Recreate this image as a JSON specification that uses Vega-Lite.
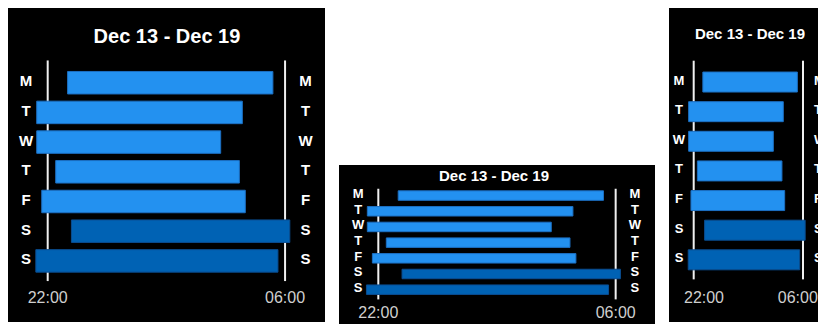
{
  "$schema": "https://vega.github.io/schema/vega-lite/v6.json",
  "background": "white",
  "padding": {"left": 8, "top": 8, "right": 0, "bottom": 0},
  "config": {"axis": {"disable": true}, "view": {"stroke": null}, "concat": {"spacing": 14}, "text": {"font": "Liberation Sans"}},
  "datasets": {
    "sleep": [
      {"row": 0, "day": "M", "start": -1.33, "end": 5.59, "kind": "weekday"},
      {"row": 1, "day": "T", "start": -2.37, "end": 4.56, "kind": "weekday"},
      {"row": 2, "day": "W", "start": -2.37, "end": 3.83, "kind": "weekday"},
      {"row": 3, "day": "T", "start": -1.73, "end": 4.46, "kind": "weekday"},
      {"row": 4, "day": "F", "start": -2.2, "end": 4.66, "kind": "weekday"},
      {"row": 5, "day": "S", "start": -1.2, "end": 6.16, "kind": "weekend"},
      {"row": 6, "day": "S", "start": -2.4, "end": 5.76, "kind": "weekend"}
    ],
    "marks": [
      {"t": -2, "label": "22:00"},
      {"t": 6, "label": "06:00"}
    ]
  },
  "hconcat": [
    {
      "width": 317, "height": 314,
      "view": {"fill": "black", "stroke": null},
      "layer": [
        {"data": {"name": "marks"}, "mark": {"type": "rule", "color": "#f0f0f0", "strokeWidth": 2, "clip": true},
         "encoding": {
           "x": {"field": "t", "type": "quantitative", "scale": {"domain": [-3.338, 7.346], "nice": false, "zero": false}},
           "y": {"datum": -0.75, "type": "quantitative", "scale": {"domain": [-2.348, 7.89], "reverse": true, "nice": false, "zero": false}},
           "y2": {"datum": 6.68}
         }},
        {"data": {"name": "sleep"}, "mark": {"type": "bar", "height": 22.5, "strokeWidth": 1, "clip": true},
         "encoding": {
           "y": {"field": "row", "type": "quantitative", "scale": {"domain": [-2.348, 7.89], "reverse": true, "nice": false, "zero": false}},
           "x": {"field": "start", "type": "quantitative", "scale": {"domain": [-3.338, 7.346], "nice": false, "zero": false}},
           "x2": {"field": "end"},
           "color": {"field": "kind", "type": "nominal", "scale": {"domain": ["weekday", "weekend"], "range": ["#2391F0", "#0062B4"]}, "legend": null},
           "stroke": {"field": "kind", "type": "nominal", "scale": {"domain": ["weekday", "weekend"], "range": ["#1c6fc2", "#0a4d91"]}, "legend": null}
         }},
        {"data": {"name": "sleep"}, "mark": {"type": "text", "fontWeight": "bold", "fontSize": 15, "color": "white", "baseline": "middle", "align": "center", "clip": true, "yOffset": -1.5},
         "encoding": {
           "y": {"field": "row", "type": "quantitative", "scale": {"domain": [-2.348, 7.89], "reverse": true, "nice": false, "zero": false}},
           "x": {"datum": -2.73, "type": "quantitative", "scale": {"domain": [-3.338, 7.346], "nice": false, "zero": false}},
           "text": {"field": "day"}
         }},
        {"data": {"name": "sleep"}, "mark": {"type": "text", "fontWeight": "bold", "fontSize": 15, "color": "white", "baseline": "middle", "align": "center", "clip": true, "yOffset": -1.5},
         "encoding": {
           "y": {"field": "row", "type": "quantitative", "scale": {"domain": [-2.348, 7.89], "reverse": true, "nice": false, "zero": false}},
           "x": {"datum": 6.69, "type": "quantitative", "scale": {"domain": [-3.338, 7.346], "nice": false, "zero": false}},
           "text": {"field": "day"}
         }},
        {"data": {"name": "marks"}, "mark": {"type": "text", "fontSize": 16, "color": "#cfcfcf", "baseline": "middle", "align": "center", "clip": true, "yOffset": 4},
         "encoding": {
           "x": {"field": "t", "type": "quantitative", "scale": {"domain": [-3.338, 7.346], "nice": false, "zero": false}},
           "y": {"datum": 7.11, "type": "quantitative", "scale": {"domain": [-2.348, 7.89], "reverse": true, "nice": false, "zero": false}},
           "text": {"field": "label"}
         }},
        {"data": {"values": [{"title": "Dec 13 - Dec 19"}]}, "mark": {"type": "text", "fontWeight": "bold", "fontSize": 20, "color": "white", "baseline": "middle", "align": "center", "clip": true, "yOffset": -3},
         "encoding": {
           "x": {"datum": 2.02, "type": "quantitative", "scale": {"domain": [-3.338, 7.346], "nice": false, "zero": false}},
           "y": {"datum": -1.435, "type": "quantitative", "scale": {"domain": [-2.348, 7.89], "reverse": true, "nice": false, "zero": false}},
           "text": {"field": "title"}
         }}
      ]
    },
    {
      "spacing": 0,
      "vconcat": [
        {
          "width": 316, "height": 157,
          "view": {"fill": null, "stroke": null},
          "data": {"values": [{}]},
          "mark": {"type": "text", "text": ""},
          "encoding": {}
        },
        {
          "width": 316, "height": 159,
          "view": {"fill": "black", "stroke": null},
          "layer": [
            {"data": {"name": "marks"}, "mark": {"type": "rule", "color": "#f0f0f0", "strokeWidth": 2, "clip": true},
             "encoding": {
               "x": {"field": "t", "type": "quantitative", "scale": {"domain": [-3.325, 7.326], "nice": false, "zero": false}},
               "y": {"datum": -0.436, "type": "quantitative", "scale": {"domain": [-1.632, 7.87], "reverse": true, "nice": false, "zero": false}},
               "y2": {"datum": 6.62}
             }},
            {"data": {"name": "sleep"}, "mark": {"type": "bar", "height": 9.5, "strokeWidth": 1, "clip": true},
             "encoding": {
               "y": {"field": "row", "type": "quantitative", "scale": {"domain": [-1.632, 7.87], "reverse": true, "nice": false, "zero": false}},
               "x": {"field": "start", "type": "quantitative", "scale": {"domain": [-3.325, 7.326], "nice": false, "zero": false}},
               "x2": {"field": "end"},
               "color": {"field": "kind", "type": "nominal", "scale": {"domain": ["weekday", "weekend"], "range": ["#2391F0", "#0062B4"]}, "legend": null},
               "stroke": {"field": "kind", "type": "nominal", "scale": {"domain": ["weekday", "weekend"], "range": ["#1c6fc2", "#0a4d91"]}, "legend": null}
             }},
            {"data": {"name": "sleep"}, "mark": {"type": "text", "fontWeight": "bold", "fontSize": 13, "color": "white", "baseline": "middle", "align": "center", "clip": true, "yOffset": -1.5},
             "encoding": {
               "y": {"field": "row", "type": "quantitative", "scale": {"domain": [-1.632, 7.87], "reverse": true, "nice": false, "zero": false}},
               "x": {"datum": -2.68, "type": "quantitative", "scale": {"domain": [-3.325, 7.326], "nice": false, "zero": false}},
               "text": {"field": "day"}
             }},
            {"data": {"name": "sleep"}, "mark": {"type": "text", "fontWeight": "bold", "fontSize": 13, "color": "white", "baseline": "middle", "align": "center", "clip": true, "yOffset": -1.5},
             "encoding": {
               "y": {"field": "row", "type": "quantitative", "scale": {"domain": [-1.632, 7.87], "reverse": true, "nice": false, "zero": false}},
               "x": {"datum": 6.65, "type": "quantitative", "scale": {"domain": [-3.325, 7.326], "nice": false, "zero": false}},
               "text": {"field": "day"}
             }},
            {"data": {"name": "marks"}, "mark": {"type": "text", "fontSize": 16, "color": "#cfcfcf", "baseline": "middle", "align": "center", "clip": true, "yOffset": 4},
             "encoding": {
               "x": {"field": "t", "type": "quantitative", "scale": {"domain": [-3.325, 7.326], "nice": false, "zero": false}},
               "y": {"datum": 7.23, "type": "quantitative", "scale": {"domain": [-1.632, 7.87], "reverse": true, "nice": false, "zero": false}},
               "text": {"field": "label"}
             }},
            {"data": {"values": [{"title": "Dec 13 - Dec 19"}]}, "mark": {"type": "text", "fontWeight": "bold", "fontSize": 15, "color": "white", "baseline": "middle", "align": "center", "clip": true, "yOffset": -3},
             "encoding": {
               "x": {"datum": 1.9, "type": "quantitative", "scale": {"domain": [-3.325, 7.326], "nice": false, "zero": false}},
               "y": {"datum": -1.034, "type": "quantitative", "scale": {"domain": [-1.632, 7.87], "reverse": true, "nice": false, "zero": false}},
               "text": {"field": "title"}
             }}
          ]
        }
      ]
    },
    {
      "width": 149, "height": 314,
      "view": {"fill": "black", "stroke": null},
      "layer": [
        {"data": {"name": "marks"}, "mark": {"type": "rule", "color": "#f0f0f0", "strokeWidth": 2, "clip": true},
         "encoding": {
           "x": {"field": "t", "type": "quantitative", "scale": {"domain": [-3.808, 7.1], "nice": false, "zero": false}},
           "y": {"datum": -0.72, "type": "quantitative", "scale": {"domain": [-2.33, 7.93], "reverse": true, "nice": false, "zero": false}},
           "y2": {"datum": 6.66}
         }},
        {"data": {"name": "sleep"}, "mark": {"type": "bar", "height": 20, "strokeWidth": 1, "clip": true},
         "encoding": {
           "y": {"field": "row", "type": "quantitative", "scale": {"domain": [-2.33, 7.93], "reverse": true, "nice": false, "zero": false}},
           "x": {"field": "start", "type": "quantitative", "scale": {"domain": [-3.808, 7.1], "nice": false, "zero": false}},
           "x2": {"field": "end"},
           "color": {"field": "kind", "type": "nominal", "scale": {"domain": ["weekday", "weekend"], "range": ["#2391F0", "#0062B4"]}, "legend": null},
           "stroke": {"field": "kind", "type": "nominal", "scale": {"domain": ["weekday", "weekend"], "range": ["#1c6fc2", "#0a4d91"]}, "legend": null}
         }},
        {"data": {"name": "sleep"}, "mark": {"type": "text", "fontWeight": "bold", "fontSize": 13, "color": "white", "baseline": "middle", "align": "center", "clip": true, "yOffset": -1.5},
         "encoding": {
           "y": {"field": "row", "type": "quantitative", "scale": {"domain": [-2.33, 7.93], "reverse": true, "nice": false, "zero": false}},
           "x": {"datum": -3.076, "type": "quantitative", "scale": {"domain": [-3.808, 7.1], "nice": false, "zero": false}},
           "text": {"field": "day"}
         }},
        {"data": {"name": "sleep"}, "mark": {"type": "text", "fontWeight": "bold", "fontSize": 13, "color": "white", "baseline": "middle", "align": "left", "clip": true, "yOffset": -1.5},
         "encoding": {
           "y": {"field": "row", "type": "quantitative", "scale": {"domain": [-2.33, 7.93], "reverse": true, "nice": false, "zero": false}},
           "x": {"datum": 6.8, "type": "quantitative", "scale": {"domain": [-3.808, 7.1], "nice": false, "zero": false}},
           "text": {"field": "day"}
         }},
        {"data": {"values": [{"label": "22:00"}]}, "mark": {"type": "text", "fontSize": 16, "color": "#cfcfcf", "baseline": "middle", "align": "center", "clip": true, "yOffset": 4},
         "encoding": {
           "x": {"datum": -1.246, "type": "quantitative", "scale": {"domain": [-3.808, 7.1], "nice": false, "zero": false}},
           "y": {"datum": 7.15, "type": "quantitative", "scale": {"domain": [-2.33, 7.93], "reverse": true, "nice": false, "zero": false}},
           "text": {"field": "label"}
         }},
        {"data": {"values": [{"label": "06:00"}]}, "mark": {"type": "text", "fontSize": 16, "color": "#cfcfcf", "baseline": "middle", "align": "center", "clip": true, "yOffset": 4},
         "encoding": {
           "x": {"datum": 5.62, "type": "quantitative", "scale": {"domain": [-3.808, 7.1], "nice": false, "zero": false}},
           "y": {"datum": 7.15, "type": "quantitative", "scale": {"domain": [-2.33, 7.93], "reverse": true, "nice": false, "zero": false}},
           "text": {"field": "label"}
         }},
        {"data": {"values": [{"title": "Dec 13 - Dec 19"}]}, "mark": {"type": "text", "fontWeight": "bold", "fontSize": 15, "color": "white", "baseline": "middle", "align": "center", "clip": true, "yOffset": -3},
         "encoding": {
           "x": {"datum": 2.12, "type": "quantitative", "scale": {"domain": [-3.808, 7.1], "nice": false, "zero": false}},
           "y": {"datum": -1.53, "type": "quantitative", "scale": {"domain": [-2.33, 7.93], "reverse": true, "nice": false, "zero": false}},
           "text": {"field": "title"}
         }}
      ]
    }
  ]
}
